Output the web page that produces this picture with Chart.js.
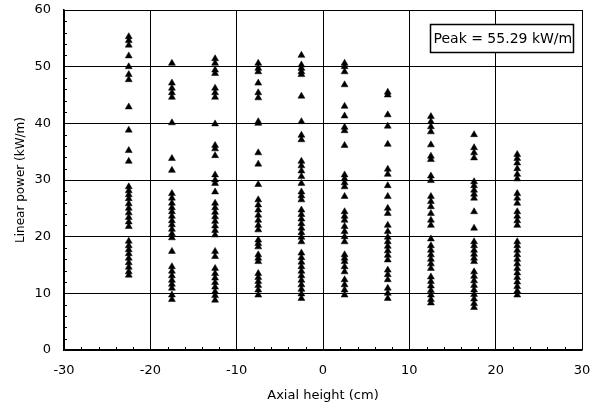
<!DOCTYPE html>
<html>
<head>
<meta charset="utf-8">
<script src="https://cdn.jsdelivr.net/npm/chart.js@4"></script>
<style>
  html, body { margin: 0; padding: 0; background: #fff; }
  #wrap { width: 598px; height: 407px; }
</style>
</head>
<body>
<div id="wrap"><canvas id="chart" width="598" height="407"></canvas></div>
<script>
// Axial positions of the measured columns (cm)
const axialHeights = [-22.5, -17.5, -12.5, -7.5, -2.5, 2.5, 7.5, 12.5, 17.5, 22.5];

// Linear power values per column (kW/m)
const colM225 = [55.3, 54.6, 53.8, 51.9, 50.0, 48.6, 47.7, 42.9, 38.8, 35.2, 33.3, 28.8, 28.1, 27.4, 26.7, 25.8, 25.0, 24.2, 23.4, 22.6, 21.8, 19.2, 18.4, 17.7, 17.0, 16.2, 15.4, 14.6, 13.8, 13.2];
const colM175 = [50.6, 47.1, 46.2, 45.4, 44.6, 40.1, 33.8, 31.7, 27.6, 26.8, 25.9, 25.1, 24.4, 23.6, 22.8, 22.1, 21.3, 20.5, 19.8, 17.4, 14.7, 13.9, 13.1, 12.3, 11.6, 10.9, 9.7, 8.9];
const colM125 = [51.4, 50.6, 49.4, 48.8, 46.2, 45.4, 44.6, 39.9, 36.1, 35.5, 34.3, 30.9, 30.0, 29.4, 27.9, 25.9, 25.1, 24.3, 23.5, 22.7, 21.9, 21.1, 20.3, 17.4, 16.5, 14.4, 13.5, 12.7, 11.9, 11.1, 10.3, 9.6, 8.8];
const colM75 = [50.6, 49.7, 49.1, 47.1, 45.4, 44.5, 40.3, 40.0, 34.8, 32.8, 29.2, 26.5, 25.6, 24.7, 23.8, 22.9, 22.0, 21.2, 19.4, 18.8, 18.2, 16.8, 16.2, 15.6, 13.5, 12.8, 12.1, 11.4, 10.6, 9.7];
const colM25 = [52.0, 50.3, 49.7, 49.1, 48.6, 44.8, 40.3, 37.9, 37.1, 33.3, 32.5, 31.6, 30.6, 29.4, 27.9, 27.2, 26.5, 24.7, 23.9, 23.1, 22.3, 21.5, 20.7, 19.9, 19.1, 17.1, 16.3, 15.5, 14.7, 13.9, 13.1, 12.3, 11.5, 10.7, 9.9, 9.1];
const colP25 = [50.6, 50.0, 49.1, 46.8, 43.0, 41.3, 39.3, 38.7, 36.1, 30.9, 30.2, 29.5, 28.8, 27.1, 24.4, 23.6, 22.9, 21.8, 20.9, 20.0, 19.1, 16.8, 16.2, 15.6, 14.7, 13.8, 12.4, 11.5, 10.6, 9.7];
const colP75 = [45.5, 45.0, 41.5, 39.5, 36.3, 31.9, 31.0, 29.0, 27.1, 25.0, 24.1, 22.0, 20.9, 19.9, 19.1, 18.3, 17.5, 16.7, 15.9, 14.1, 13.3, 12.4, 10.9, 10.0, 9.1];
const colP125 = [41.2, 40.3, 39.4, 38.5, 36.2, 34.2, 33.6, 30.7, 29.9, 27.1, 26.2, 25.3, 24.1, 22.9, 22.0, 19.6, 18.4, 17.6, 16.8, 16.0, 15.2, 14.4, 12.9, 12.1, 11.3, 10.5, 9.7, 8.9, 8.3];
const colP175 = [38.0, 35.7, 34.8, 33.9, 29.7, 29.0, 28.2, 27.5, 26.8, 24.4, 21.5, 19.1, 18.4, 17.6, 16.9, 16.2, 15.6, 13.8, 13.0, 12.2, 11.4, 10.6, 9.8, 9.0, 8.2, 7.5];
const colP225 = [34.5, 33.8, 33.0, 32.0, 31.0, 30.2, 27.6, 26.8, 25.9, 24.4, 23.6, 22.8, 22.0, 19.1, 18.4, 17.6, 16.8, 16.0, 15.2, 14.4, 13.6, 12.8, 12.0, 11.2, 10.4, 9.7];

const columns = [colM225, colM175, colM125, colM75, colM25, colP25, colP75, colP125, colP175, colP225];

const xTicks = [-30, -20, -10, 0, 10, 20, 30];
const yTicks = [0, 10, 20, 30, 40, 50, 60];
const peakLabel = 'Peak = 55.29 kW/m';

const points = [];
columns.forEach((vals, i) => {
    vals.forEach(v => points.push({ x: axialHeights[i], y: v }));
});

const FONT = '"DejaVu Sans", "Liberation Sans", sans-serif';

// small inner minor ticks + the "Peak" box
const extrasPlugin = {
    id: 'extras',
    afterDraw(chart) {
        const { ctx, chartArea, scales } = chart;
        const xs = scales.x, ys = scales.y;
        ctx.save();
        ctx.strokeStyle = '#000';
        ctx.lineWidth = 1;
        ctx.beginPath();
        for (let v = 2; v < 60; v += 2) {
            if (v % 10 === 0) continue;
            const py = Math.round(ys.getPixelForValue(v)) + 0.5;
            ctx.moveTo(chartArea.left, py);
            ctx.lineTo(chartArea.left + 3, py);
        }
        for (let v = -28; v < 30; v += 2) {
            if (v % 10 === 0) continue;
            const px = Math.round(xs.getPixelForValue(v)) + 0.5;
            ctx.moveTo(px, chartArea.bottom);
            ctx.lineTo(px, chartArea.bottom - 3);
        }
        ctx.stroke();

        const bx = Math.round(xs.getPixelForValue(12.4)) + 0.5;
        const bx2 = Math.round(xs.getPixelForValue(29.0)) + 0.5;
        const by = Math.round(ys.getPixelForValue(57.6)) + 0.5;
        const by2 = Math.round(ys.getPixelForValue(52.6)) + 0.5;
        ctx.fillStyle = '#fff';
        ctx.fillRect(bx, by, bx2 - bx, by2 - by);
        ctx.lineWidth = 1.5;
        ctx.strokeRect(bx, by, bx2 - bx, by2 - by);
        ctx.fillStyle = '#000';
        ctx.font = '14px ' + FONT;
        ctx.textBaseline = 'middle';
        ctx.textAlign = 'left';
        ctx.fillText(peakLabel, bx + 3, (by + by2) / 2 + 1);
        ctx.restore();
    }
};

new Chart(document.getElementById('chart').getContext('2d'), {
    type: 'scatter',
    data: {
        datasets: [{
            data: points,
            pointStyle: 'triangle',
            radius: 4,
            backgroundColor: '#000',
            borderColor: '#000',
            borderWidth: 0.5
        }]
    },
    options: {
        responsive: false,
        animation: false,
        layout: { padding: { top: 10, right: 16, left: 0, bottom: 0 } },
        plugins: {
            legend: { display: false },
            tooltip: { enabled: false }
        },
        scales: {
            x: {
                type: 'linear',
                min: -30,
                max: 30,
                afterBuildTicks: (s) => { s.ticks = xTicks.map(v => ({ value: v })); },
                afterFit: (s) => {
                    s.height = 57;
                    s.paddingLeft = 0;
                    s.paddingRight = 0;
                },
                ticks: {
                    color: '#000',
                    font: { family: FONT, size: 13 },
                    padding: 13,
                    maxRotation: 0
                },
                grid: { color: '#000', lineWidth: 1, drawTicks: false },
                border: { color: '#000', width: 1.5 },
                title: {
                    display: true,
                    text: 'Axial height (cm)',
                    color: '#000',
                    font: { family: FONT, size: 13 },
                    padding: { top: 3 }
                }
            },
            y: {
                type: 'linear',
                min: 0,
                max: 60,
                afterBuildTicks: (s) => { s.ticks = yTicks.map(v => ({ value: v })); },
                afterFit: (s) => {
                    s.width = 64;
                    s.paddingTop = 0;
                    s.paddingBottom = 0;
                },
                ticks: {
                    color: '#000',
                    font: { family: FONT, size: 13 },
                    padding: 13
                },
                grid: { color: '#000', lineWidth: 1, drawTicks: false },
                border: { color: '#000', width: 1.5 },
                title: {
                    display: true,
                    text: 'Linear power (kW/m)',
                    color: '#000',
                    font: { family: FONT, size: 12 },
                    padding: { top: 14, bottom: 0 }
                }
            }
        }
    },
    plugins: [extrasPlugin]
});
</script>
</body>
</html>
